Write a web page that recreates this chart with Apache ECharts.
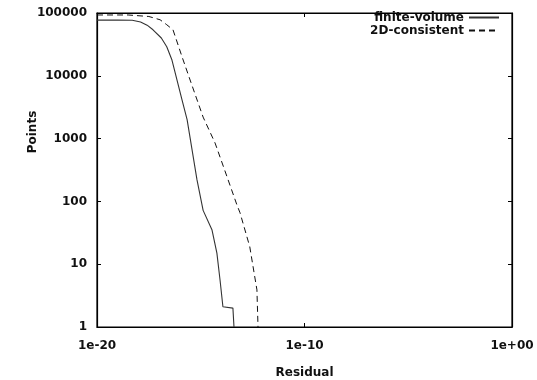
<!DOCTYPE html>
<html>
<head>
<meta charset="utf-8">
<script src="https://cdn.jsdelivr.net/npm/echarts@6/dist/echarts.min.js"></script>
<style>
html, body { margin: 0; padding: 0; background: #fff; }
#main { width: 537px; height: 380px; }
</style>
</head>
<body>
<div id="main"></div>
<script>
// residual (x) vs number of points (y), both log scale
var fvResidual = [1e-20, 1e-19, 5e-19, 1.26e-18, 2.6e-18, 5e-18, 1.26e-17, 2.3e-17, 4.1e-17, 1.26e-16, 2.2e-16, 6.6e-16, 1.3e-15, 3.5e-15, 6e-15, 8.5e-15, 1.17e-14, 3.55e-14, 4e-14];
var fvPoints   = [77000, 77000, 76500, 72000, 64000, 54000, 40000, 29000, 17800, 4100, 2000, 220, 72, 35, 15, 5.6, 2.1, 2, 1];

var cnResidual = [1e-20, 1e-19, 3.16e-19, 3.16e-18, 1.1e-17, 2.3e-17, 4.6e-17, 1.26e-16, 3.8e-16, 1.3e-15, 4.9e-15, 1.86e-14, 5.6e-14, 7.8e-14, 2.3e-13, 5.1e-13, 5.75e-13];
var cnPoints   = [93000, 93000, 93000, 88000, 78000, 65000, 54000, 20000, 7000, 2200, 850, 245, 87, 66, 19, 3.9, 1];

var xTicks = [1e-20, 1e-10, 1];
var yTicks = [1, 10, 100, 1000, 10000, 100000];
var seriesNames = ['finite-volume', '2D-consistent'];

function pairs(xs, ys) {
    var out = [];
    xs.forEach(function (v, i) { out.push([v, ys[i]]); });
    return out;
}

function expLabel(v) {
    var e = Math.round(Math.log10(v));
    var s = e < 0 ? '-' : '+';
    var a = Math.abs(e);
    return '1e' + s + (a < 10 ? '0' + a : a);
}

var font = { fontFamily: 'DejaVu Sans', fontWeight: 'bold', fontSize: 12, color: '#111' };

var myChart = echarts.init(document.getElementById('main'));

var option = {
    animation: false,
    backgroundColor: '#fff',
    textStyle: { fontFamily: 'DejaVu Sans' },
    grid: {
        left: 97, right: 25, top: 13, bottom: 53,
        outerBoundsMode: 'none',
        containLabel: false,
        show: true, borderColor: '#000', borderWidth: 1.2
    },
    legend: {
        orient: 'vertical',
        right: 37, top: 11,
        align: 'right',
        itemWidth: 30, itemHeight: 8, itemGap: 0,
        padding: 0,
        itemStyle: { opacity: 0 },
        textStyle: Object.assign({ lineHeight: 13, height: 13 }, font),
        data: seriesNames
    },
    graphic: [{
        type: 'text',
        x: 33, y: 132,
        rotation: Math.PI / 2,
        style: {
            text: 'Points', fontFamily: 'DejaVu Sans', fontWeight: 'bold',
            fontSize: 12, fill: '#111', align: 'center', verticalAlign: 'middle'
        }
    }],
    xAxis: [{
        type: 'log', logBase: 10,
        min: xTicks[0], max: xTicks[xTicks.length - 1],
        interval: 10,
        name: 'Residual', nameLocation: 'middle', nameGap: 40,
        nameTextStyle: font,
        axisLine: { lineStyle: { color: '#000', width: 1.2 } },
        axisTick: { inside: true, length: 4, lineStyle: { color: '#000' } },
        axisLabel: Object.assign({ margin: 13, formatter: expLabel }, font),
        splitLine: { show: false },
        minorTick: { show: false }
    }, {
        type: 'log', logBase: 10, position: 'top',
        min: xTicks[0], max: xTicks[xTicks.length - 1],
        interval: 10,
        axisLine: { lineStyle: { color: '#000', width: 1.2 } },
        axisTick: { inside: true, length: 4, lineStyle: { color: '#000' } },
        axisLabel: { show: false },
        splitLine: { show: false }
    }],
    yAxis: [{
        type: 'log', logBase: 10,
        min: yTicks[0], max: yTicks[yTicks.length - 1],
        interval: 1,
        axisLine: { lineStyle: { color: '#000', width: 1.2 } },
        axisTick: { inside: true, length: 4, lineStyle: { color: '#000' } },
        axisLabel: Object.assign({ margin: 10, formatter: function (v) { return String(Math.round(v)); } }, font),
        splitLine: { show: false }
    }, {
        type: 'log', logBase: 10, position: 'right',
        min: yTicks[0], max: yTicks[yTicks.length - 1],
        interval: 1,
        axisLine: { lineStyle: { color: '#000', width: 1.2 } },
        axisTick: { inside: true, length: 4, lineStyle: { color: '#000' } },
        axisLabel: { show: false },
        splitLine: { show: false }
    }],
    series: [{
        name: seriesNames[0],
        type: 'line',
        symbol: 'none',
        color: '#333',
        lineStyle: { color: '#333', width: 1.1 },
        data: pairs(fvResidual, fvPoints)
    }, {
        name: seriesNames[1],
        type: 'line',
        symbol: 'none',
        color: '#111',
        lineStyle: { color: '#111', width: 1, type: [6, 4] },
        data: pairs(cnResidual, cnPoints)
    }]
};

myChart.setOption(option);
</script>
</body>
</html>
